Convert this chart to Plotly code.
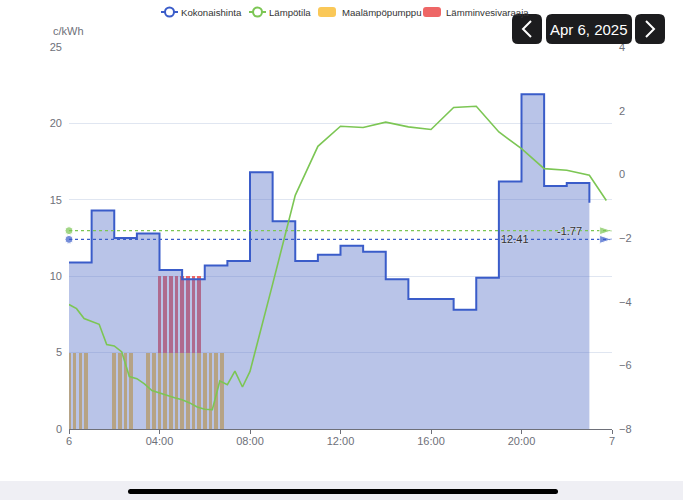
import plotly.graph_objects as go

# ---------------- data ----------------
price_hours = list(range(24))
price = [10.9, 14.3, 12.5, 12.8, 10.4, 9.8, 10.7, 11.0, 16.8, 13.6, 11.0, 11.4,
         12.0, 11.6, 9.8, 8.5, 8.5, 7.8, 9.9, 16.2, 21.9, 15.9, 16.1, 14.8]

temp_hours = [i / 3 for i in range(25)] + [9, 10, 11, 12, 13, 14, 15, 16, 17, 18,
                                           19, 20, 21, 22, 23, 23.75]
temp = [-4.09, -4.22, -4.53, -4.61, -4.71, -5.35, -5.39, -5.58, -6.35, -6.42,
        -6.58, -6.79, -6.87, -6.93, -7.02, -7.08, -7.18, -7.31, -7.38, -7.39,
        -6.49, -6.61, -6.18, -6.68, -6.19,
        -3.45, -0.66, 0.88, 1.51, 1.47, 1.64, 1.49, 1.41, 2.10, 2.14,
        1.33, 0.81, 0.18, 0.13, -0.03, -0.82]

heatpump_hours = [0, 0.25, 0.5, 0.75, 2, 2.25, 2.5, 2.75,
                  3.5, 3.75, 4, 4.25, 4.5, 4.75, 5, 5.25, 5.5, 5.75,
                  6, 6.25, 6.5, 6.75]
heatpump = [5] * len(heatpump_hours)

boiler_hours = [4, 4.25, 4.5, 4.75, 5, 5.25, 5.5, 5.75]
boiler = [5] * len(boiler_hours)

avg_price = 12.41
avg_temp = -1.77

tick_vals = [0, 4, 8, 12, 16, 20, 24]
tick_text = ["6", "04:00", "08:00", "12:00", "16:00", "20:00", "7"]
date_label = "Apr 6, 2025"
series_names = ["Kokonaishinta", "Lämpötila", "Maalämpöpumppu", "Lämminvesivaraaja"]

# ---------------- style ----------------
BLUE = "#3a5cc9"
AREA = "rgba(84,112,198,0.41)"
GREEN = "#7cc654"
ORANGE = "#fac858"
RED = "#ee6666"
AXIS = "#6E7079"
FONT = "Liberation Sans, Arial, sans-serif"

W, H = 683, 500
L, T, R, B = 69, 47, 612, 429
PW, PH = R - L, B - T


def pxx(x):
    return (x - L) / PW


def pyy(y):
    return (B - y) / PH


def rrect(x0, y0, x1, y1, r):
    X0, X1 = pxx(x0), pxx(x1)
    Y0, Y1 = pyy(y0), pyy(y1)
    rx, ry = r / PW, r / PH
    return (f"M{X0+rx},{Y0} L{X1-rx},{Y0} Q{X1},{Y0} {X1},{Y0-ry} "
            f"L{X1},{Y1+ry} Q{X1},{Y1} {X1-rx},{Y1} L{X0+rx},{Y1} "
            f"Q{X0},{Y1} {X0},{Y1+ry} L{X0},{Y0-ry} Q{X0},{Y0} {X0+rx},{Y0} Z")


fig = go.Figure()

# bars (drawn beneath the price area)
fig.add_trace(go.Bar(x=heatpump_hours, y=heatpump, width=0.16, marker_color=ORANGE,
                     marker_line_width=0, name=series_names[2]))
fig.add_trace(go.Bar(x=boiler_hours, y=boiler, width=0.16, marker_color=RED,
                     marker_line_width=0, name=series_names[3]))

# price area
fig.add_trace(go.Scatter(x=price_hours, y=price, mode="lines", line_shape="hv",
                         line=dict(color=BLUE, width=2), fill="tozeroy",
                         fillcolor=AREA, name=series_names[0]))

# average price mark line
fig.add_trace(go.Scatter(x=[0, 24], y=[avg_price, avg_price], mode="lines+markers",
                         line=dict(color=BLUE, width=1.2, dash="3px,3px"),
                         marker=dict(symbol=["circle", "arrow"], angle=[0, 90],
                                     size=[8, 13], color=BLUE),
                         cliponaxis=False))

# temperature
fig.add_trace(go.Scatter(x=temp_hours, y=temp, mode="lines", yaxis="y2",
                         line=dict(color=GREEN, width=1.6), name=series_names[1]))
fig.add_trace(go.Scatter(x=[0, 24], y=[avg_temp, avg_temp], mode="lines+markers",
                         yaxis="y2",
                         line=dict(color=GREEN, width=1.2, dash="3px,3px"),
                         marker=dict(symbol=["circle", "arrow"], angle=[0, 90],
                                     size=[8, 13], color=GREEN),
                         cliponaxis=False))


def P(x0, y0, x1, y1):
    return dict(xref="paper", yref="paper", x0=pxx(x0), x1=pxx(x1),
                y0=pyy(y0), y1=pyy(y1))


shapes = []
annotations = []

# ---- hand-drawn legend (ECharts style) ----
LY = 12
legend_items = [
    ("line", BLUE, 161, 179),
    ("line", GREEN, 249, 267),
    ("rect", ORANGE, 318, 340),
    ("rect", RED, 423, 444),
]
for (kind, col, ix, tx), name in zip(legend_items, series_names):
    if kind == "line":
        shapes.append(dict(type="line", **P(ix, LY, ix + 17, LY),
                           line=dict(color=col, width=2), layer="above"))
        shapes.append(dict(type="circle", **P(ix + 4, LY - 4.5, ix + 13, LY + 4.5),
                           fillcolor="white", line=dict(color=col, width=2),
                           layer="above"))
    else:
        shapes.append(dict(type="path", path=rrect(ix, LY - 5, ix + 18, LY + 5, 3),
                           xref="paper", yref="paper", fillcolor=col, line_width=0,
                           layer="above"))
    annotations.append(dict(text=name, xref="paper", yref="paper", x=pxx(tx),
                            y=pyy(LY), showarrow=False, xanchor="left",
                            yanchor="middle",
                            font=dict(size=9.6, color="#333", family=FONT)))

shapes += [
    # bottom system band
    dict(type="rect", **P(0, 481, W, H), fillcolor="#efeff4", line_width=0,
         layer="above"),
    dict(type="path", xref="paper", yref="paper", path=rrect(128, 489, 558, 494, 2.5),
         fillcolor="#000000", line_width=0, layer="above"),
    # date picker buttons
    dict(type="path", xref="paper", yref="paper", path=rrect(512, 14, 542, 44, 6),
         fillcolor="#1c1c1e", line_width=0, layer="above"),
    dict(type="path", xref="paper", yref="paper", path=rrect(546, 14, 632, 44, 6),
         fillcolor="#1c1c1e", line_width=0, layer="above"),
    dict(type="path", xref="paper", yref="paper", path=rrect(635, 14, 665, 44, 6),
         fillcolor="#1c1c1e", line_width=0, layer="above"),
    dict(type="path", xref="paper", yref="paper",
         path=f"M{pxx(531)},{pyy(21)} L{pxx(523)},{pyy(29)} L{pxx(531)},{pyy(37)}",
         line=dict(color="white", width=2), layer="above"),
    dict(type="path", xref="paper", yref="paper",
         path=f"M{pxx(646)},{pyy(21)} L{pxx(654)},{pyy(29)} L{pxx(646)},{pyy(37)}",
         line=dict(color="white", width=2), layer="above"),
]

annotations += [
    dict(text="c/kWh", xref="paper", yref="paper", x=pxx(68), y=pyy(31),
         showarrow=False, font=dict(size=11, color=AXIS, family=FONT),
         xanchor="center", yanchor="middle"),
    dict(text=date_label, xref="paper", yref="paper", x=pxx(589), y=pyy(29),
         showarrow=False, font=dict(size=15, color="white", family=FONT),
         xanchor="center", yanchor="middle"),
    dict(text=f"{avg_price:.2f}", x=19.7, y=avg_price, xref="x", yref="y",
         showarrow=False, font=dict(size=11, color="#333", family=FONT,
                                    shadow="0px 0px 2px white"),
         xanchor="center", yanchor="middle"),
    dict(text=f"{avg_temp:.2f}", x=22.1, y=avg_temp, xref="x", yref="y2",
         showarrow=False, font=dict(size=11, color="#333", family=FONT,
                                    shadow="0px 0px 2px white"),
         xanchor="center", yanchor="middle"),
]

fig.update_layout(
    width=W, height=H,
    margin=dict(l=L, r=W - R, t=T, b=H - B, pad=0, autoexpand=False),
    paper_bgcolor="white", plot_bgcolor="white",
    barmode="stack", bargap=0, showlegend=False,
    font=dict(family=FONT, size=11, color=AXIS),
    xaxis=dict(range=[0, 24], tickvals=tick_vals, ticktext=tick_text,
               showgrid=False, zeroline=False, showline=True, linecolor=AXIS,
               linewidth=1, ticks="outside", ticklen=4, tickcolor=AXIS,
               ticklabelstandoff=-2, tickfont=dict(size=11, color=AXIS)),
    yaxis=dict(range=[0, 25], tickvals=[0, 5, 10, 15, 20, 25], showgrid=True,
               gridcolor="#E0E6F1", gridwidth=1, zeroline=False, showline=False,
               ticks="", ticklabelstandoff=6, tickfont=dict(size=11, color=AXIS)),
    yaxis2=dict(range=[-8, 4], tickvals=[-8, -6, -4, -2, 0, 2, 4], overlaying="y",
                side="right", showgrid=False, zeroline=False, showline=False,
                ticks="", ticklabelstandoff=6, tickfont=dict(size=11, color=AXIS)),
    shapes=shapes, annotations=annotations,
)

fig.write_html("out.html")
